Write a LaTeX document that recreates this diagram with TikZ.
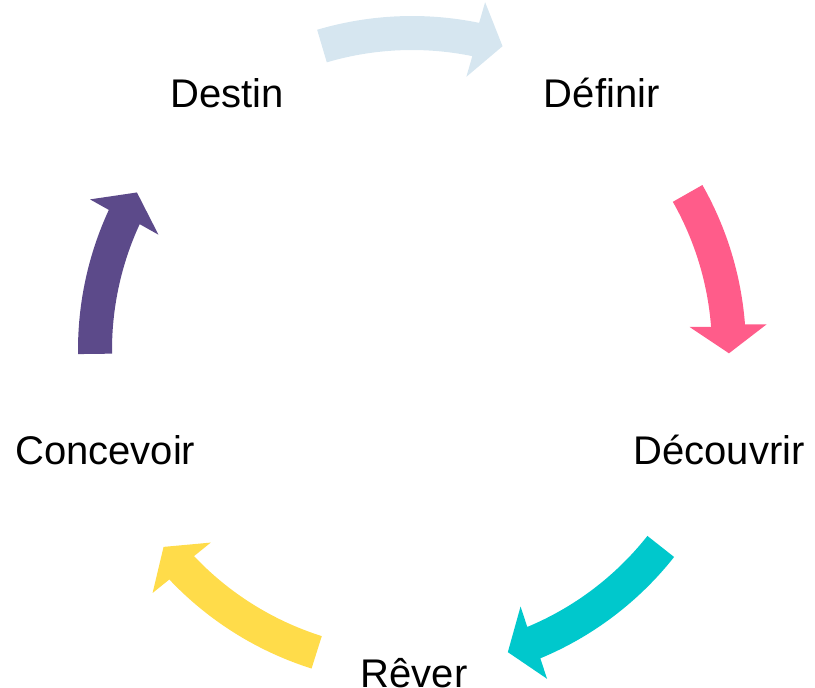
\documentclass[tikz,border=0pt]{standalone}
\usepackage{fontspec}
\setmainfont{Liberation Sans}
\usetikzlibrary{calc}

\definecolor{cyclesky}{RGB}{214,230,240}
\definecolor{cyclepink}{RGB}{255,92,138}
\definecolor{cycleteal}{RGB}{0,200,204}
\definecolor{cycleyellow}{RGB}{255,220,74}
\definecolor{cyclepurple}{RGB}{92,74,138}

% curved block arrow on the ring: start angle, tip angle, colour
\newcommand{\cyclearrow}[3]{%
  \pgfmathsetmacro{\hb}{#2+5}%
  \pgfmathsetmacro{\hm}{#2+2.5}%
  \fill[#3] (#1:334) arc[start angle=#1, end angle=\hb, radius=334]
    -- ($(\hb:317)+(\hm:38.5)$) -- (#2:317) -- ($(\hb:317)+(\hm:-38.5)$)
    -- (\hb:300) arc[start angle=\hb, end angle=#1, radius=300] -- cycle;
}

\tikzset{stage/.style={font=\fontsize{40}{48}\selectfont, anchor=base, inner sep=0pt}}

\begin{document}
\begin{tikzpicture}[x=1pt,y=1pt]
      \useasboundingbox (-412,-338) rectangle (403,350);
      \node[stage] (destin) at (-185,242.7) {Destin};
      \node[stage] (definir) at (189.7,242.7) {Définir};
      \node[stage] (decouvrir) at (307,-115) {Découvrir};
      \node[stage] (rever) at (2,-337.3) {Rêver};
      \node[stage] (concevoir) at (-306.7,-115) {Concevoir};
      \cyclearrow{106.5}{73.4}{cyclesky}
      \cyclearrow{29.6}{-0.6}{cyclepink}
      \cyclearrow{-38.3}{-72.4}{cycleteal}
      \cyclearrow{-107.5}{-141.6}{cycleyellow}
      \cyclearrow{180.7}{150.2}{cyclepurple}
    \end{tikzpicture}
\end{document}
